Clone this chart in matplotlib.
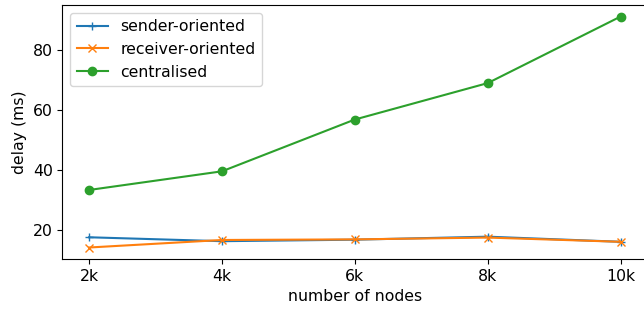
import matplotlib
matplotlib.use("Agg")
import matplotlib.pyplot as plt
from matplotlib.ticker import MultipleLocator

nodes = ["2k", "4k", "6k", "8k", "10k"]
sender = [17.7, 16.4, 16.9, 17.9, 16.2]
receiver = [14.3, 16.8, 17.0, 17.6, 16.2]
central = [33.4, 39.6, 56.8, 68.9, 91.0]

plt.rcParams["font.size"] = 11.3

x = list(range(len(nodes)))

fig, ax = plt.subplots(figsize=(6.44, 3.11), dpi=100)
ax.plot(x, sender, marker="+", label="sender-oriented")
ax.plot(x, receiver, marker="x", label="receiver-oriented")
ax.plot(x, central, marker="o", label="centralised")
ax.set_xticks(x)
ax.set_xticklabels(nodes)
ax.yaxis.set_major_locator(MultipleLocator(20))
ax.set_xlabel("number of nodes")
ax.set_ylabel("delay (ms)")
ax.legend(loc="upper left")
# the original axes run slightly past the right edge of the image
fig.subplots_adjust(left=0.097, right=1.005, top=0.984, bottom=0.167)
fig.savefig("out.png")
